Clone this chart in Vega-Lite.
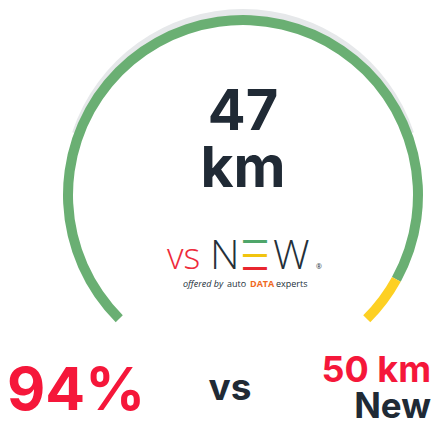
{
  "$schema": "https://vega.github.io/schema/vega-lite/v6.json",
  "width": 388,
  "height": 390,
  "padding": {"left": 49, "top": 0, "right": 0, "bottom": 34},
  "autosize": {"type": "none"},
  "background": "white",
  "config": {"view": {"stroke": null}, "text": {"font": "Inter", "fontWeight": "bold"}},
  "datasets": {
    "gauge": [
      {"segment": "Range covered", "km": 47, "idx": 1},
      {"segment": "Remaining to new", "km": 3, "idx": 2}
    ],
    "summary": [
      {"range": "47", "unit": "km", "share": 0.94, "new_range": "50 km", "new_label": "New"}
    ]
  },
  "layer": [
    {
      "data": {"name": "summary"},
      "mark": {"type": "arc", "theta": -1.25, "theta2": 1.25, "outerRadius": 180, "innerRadius": 170, "yOffset": -6, "color": "#e6e8ea"},
      "encoding": {}
    },
    {
      "data": {"name": "gauge"},
      "mark": {"type": "arc", "outerRadius": 180, "innerRadius": 170},
      "encoding": {
        "theta": {"field": "km", "type": "quantitative", "stack": true, "scale": {"domain": [0, 50], "range": [-2.356194, 2.356194]}},
        "order": {"field": "idx", "type": "quantitative"},
        "color": {"field": "segment", "type": "nominal", "scale": {"domain": ["Range covered", "Remaining to new"], "range": ["#6aaf73", "#fdd023"]}, "legend": null}
      }
    },
    {
      "data": {"name": "summary"},
      "mark": {"type": "text", "fontSize": 56, "align": "center", "baseline": "alphabetic", "dy": -65, "color": "#202a35"},
      "encoding": {"text": {"field": "range"}}
    },
    {
      "data": {"name": "summary"},
      "mark": {"type": "text", "fontSize": 57, "align": "center", "baseline": "alphabetic", "dy": -8, "color": "#202a35"},
      "encoding": {"text": {"field": "unit"}}
    },
    {
      "data": {"name": "summary"},
      "mark": {"type": "text", "text": "vs", "font": "Open Sans", "fontWeight": 300, "fontSize": 36, "align": "left", "baseline": "alphabetic", "dx": -76, "dy": 74, "color": "#ee2b3b"},
      "encoding": {}
    },
    {
      "data": {"name": "summary"},
      "mark": {"type": "text", "text": "N", "font": "Open Sans", "fontWeight": 300, "fontSize": 41, "align": "left", "baseline": "alphabetic", "dx": -33, "dy": 74, "color": "#24303a"},
      "encoding": {}
    },
    {
      "data": {"name": "summary"},
      "mark": {"type": "text", "text": "—", "font": "Open Sans", "fontWeight": "bold", "fontSize": 26, "align": "center", "baseline": "alphabetic", "dx": 12, "dy": 54, "color": "#4fa66a"},
      "encoding": {}
    },
    {
      "data": {"name": "summary"},
      "mark": {"type": "text", "text": "—", "font": "Open Sans", "fontWeight": "bold", "fontSize": 26, "align": "center", "baseline": "alphabetic", "dx": 12, "dy": 68, "color": "#f1c40f"},
      "encoding": {}
    },
    {
      "data": {"name": "summary"},
      "mark": {"type": "text", "text": "—", "font": "Open Sans", "fontWeight": "bold", "fontSize": 26, "align": "center", "baseline": "alphabetic", "dx": 12, "dy": 81, "color": "#e8262f"},
      "encoding": {}
    },
    {
      "data": {"name": "summary"},
      "mark": {"type": "text", "text": "W", "font": "Open Sans", "fontWeight": 300, "fontSize": 41, "align": "left", "baseline": "alphabetic", "dx": 30, "dy": 74, "color": "#24303a"},
      "encoding": {}
    },
    {
      "data": {"name": "summary"},
      "mark": {"type": "text", "text": "®", "font": "Open Sans", "fontWeight": "normal", "fontSize": 7, "align": "left", "baseline": "alphabetic", "dx": 73, "dy": 74, "color": "#24303a"},
      "encoding": {}
    },
    {
      "data": {"name": "summary"},
      "mark": {"type": "text", "text": "offered by", "font": "Open Sans", "fontStyle": "italic", "fontWeight": "normal", "fontSize": 9, "align": "left", "baseline": "alphabetic", "dx": -60, "dy": 92, "color": "#24303a"},
      "encoding": {}
    },
    {
      "data": {"name": "summary"},
      "mark": {"type": "text", "text": "auto", "font": "Open Sans", "fontWeight": "normal", "fontSize": 9, "align": "left", "baseline": "alphabetic", "dx": -16, "dy": 92, "color": "#24303a"},
      "encoding": {}
    },
    {
      "data": {"name": "summary"},
      "mark": {"type": "text", "text": "DATA", "font": "Open Sans", "fontWeight": "bold", "fontSize": 9, "align": "left", "baseline": "alphabetic", "dx": 7, "dy": 92, "color": "#f06a1f"},
      "encoding": {}
    },
    {
      "data": {"name": "summary"},
      "mark": {"type": "text", "text": "experts", "font": "Open Sans", "fontWeight": "normal", "fontSize": 9, "align": "left", "baseline": "alphabetic", "dx": 33, "dy": 92, "color": "#24303a"},
      "encoding": {}
    },
    {
      "data": {"name": "summary"},
      "mark": {"type": "text", "fontSize": 59, "align": "left", "baseline": "alphabetic", "dx": -236, "dy": 215, "color": "#f5173a"},
      "encoding": {"text": {"field": "share", "type": "quantitative", "format": ".0%"}}
    },
    {
      "data": {"name": "summary"},
      "mark": {"type": "text", "text": "vs", "fontSize": 37, "align": "center", "baseline": "alphabetic", "dx": -13, "dy": 205, "color": "#202a35"},
      "encoding": {}
    },
    {
      "data": {"name": "summary"},
      "mark": {"type": "text", "fontSize": 36, "align": "right", "baseline": "alphabetic", "dx": 188, "dy": 187, "color": "#f5173a"},
      "encoding": {"text": {"field": "new_range"}}
    },
    {
      "data": {"name": "summary"},
      "mark": {"type": "text", "fontSize": 35, "align": "right", "baseline": "alphabetic", "dx": 188, "dy": 223, "color": "#202a35"},
      "encoding": {"text": {"field": "new_label"}}
    }
  ]
}
